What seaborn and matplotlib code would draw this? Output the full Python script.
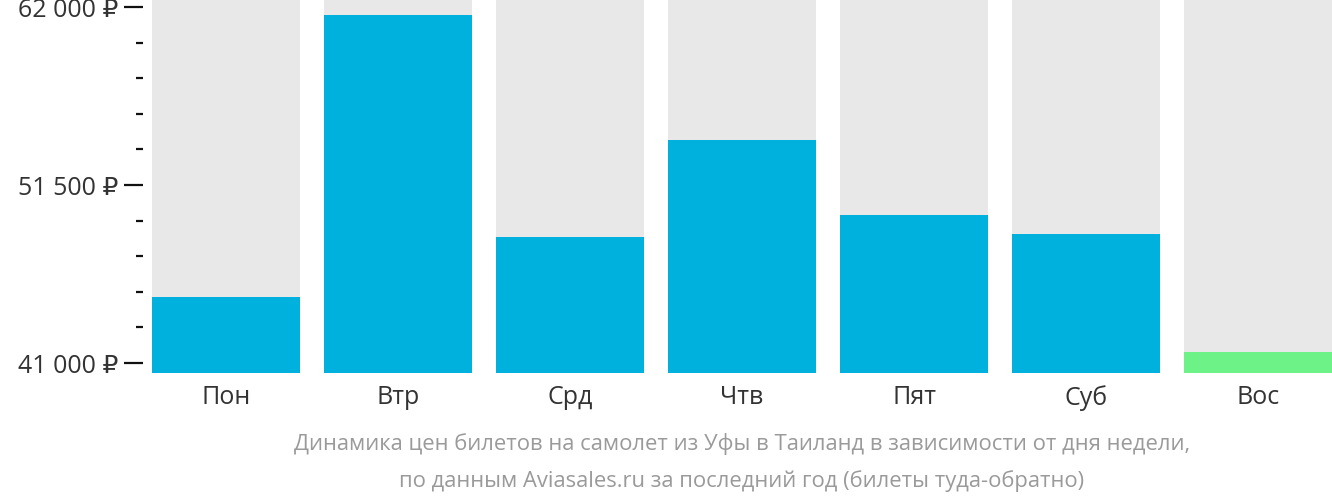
import matplotlib
matplotlib.use("Agg")
import pandas as pd
import seaborn as sns
from matplotlib import pyplot as plt
from matplotlib.ticker import FixedLocator, MultipleLocator

days = ["Пон", "Втр", "Срд", "Чтв", "Пят", "Суб", "Вос"]
prices = [44900, 61500, 48450, 54150, 49750, 48600, 41650]
y_major = [41000, 51500, 62000]
y_labels = ["41 000 ₽", "51 500 ₽", "62 000 ₽"]
caption = ["Динамика цен билетов на самолет из Уфы в Таиланд в зависимости от дня недели,",
           "по данным Aviasales.ru за последний год (билеты туда-обратно)"]


def main():
    sns.set_style("white")
    plt.rcParams['font.family'] = ['Open Sans', 'DejaVu Sans']

    y_low, y_high = 40410, 62470
    cheapest = min(prices)
    df = pd.DataFrame({"day": days, "price": prices,
                       "bg": [y_high] * len(days)})
    colors = ["#6cf287" if p == cheapest else "#00b0dd" for p in prices]

    fig = plt.figure(figsize=(13.32, 5.02), dpi=100)
    ax = fig.add_axes([143 / 1332, 128 / 502, 1 - 143 / 1332, 374 / 502])

    sns.barplot(data=df, x="day", y="bg", color="#e8e8e8", width=0.86,
                saturation=1, linewidth=0, ax=ax)
    sns.barplot(data=df, x="day", y="price", hue="day", palette=colors,
                width=0.86, saturation=1, linewidth=0, legend=False, ax=ax)

    ax.set_ylim(y_low, y_high)
    ax.set_xlim(-0.4826, 6.43)
    ax.yaxis.set_major_locator(FixedLocator(y_major))
    ax.set_yticklabels(y_labels)
    ax.yaxis.set_minor_locator(MultipleLocator(2100, offset=41000))
    ax.tick_params(axis="y", which="major", length=14, width=1.6,
                   color="#111111", labelsize=18, labelcolor="#333333", pad=4, left=True)
    ax.tick_params(axis="y", which="minor", length=5, width=1.6,
                   color="#111111", left=True)
    ax.tick_params(axis="x", length=0, labelsize=18, labelcolor="#333333", pad=8)
    ax.set_xlabel("")
    ax.set_ylabel("")
    sns.despine(ax=ax, left=True, bottom=True)

    fig.text(742 / 1332, 1 - 444 / 502, caption[0], ha="center", va="center",
             fontsize=15.8, color="#9a9a9a")
    fig.text(742 / 1332, 1 - 481 / 502, caption[1], ha="center", va="center",
             fontsize=15.8, color="#9a9a9a")

    plt.savefig("out.png", dpi=100)


if __name__ == '__main__':
    main()
